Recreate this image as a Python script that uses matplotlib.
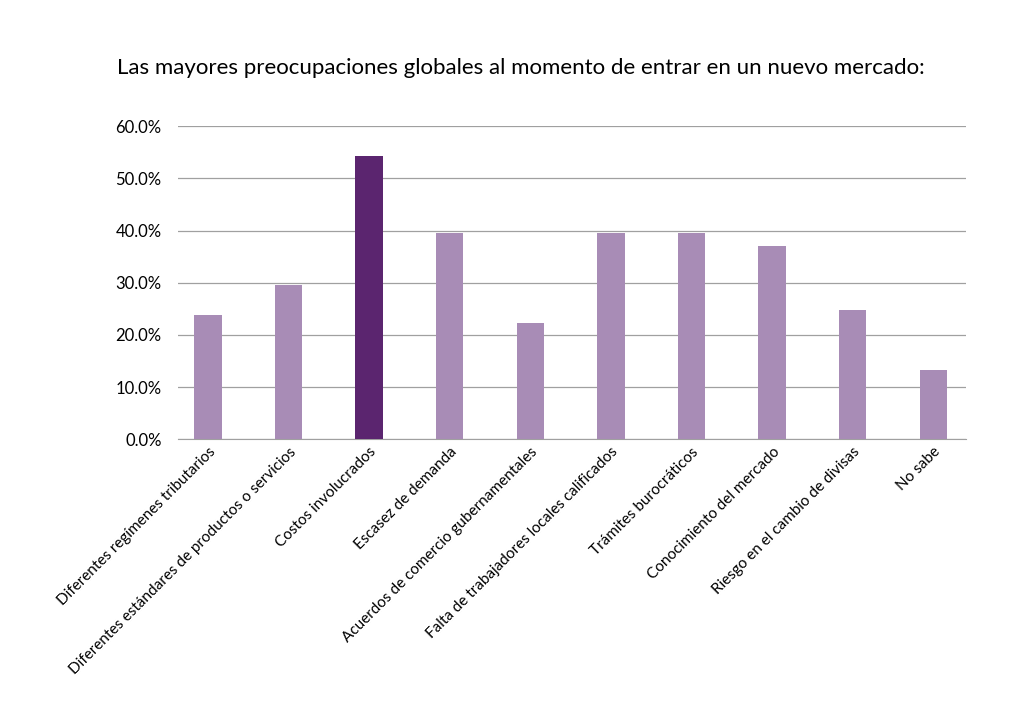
import matplotlib.pyplot as plt
import numpy as np

plt.rcParams['font.family'] = ['Lato', 'DejaVu Sans']

categories = [
    "Diferentes regímenes tributarios",
    "Diferentes estándares de productos o servicios",
    "Costos involucrados",
    "Escasez de demanda",
    "Acuerdos de comercio gubernamentales",
    "Falta de trabajadores locales calificados",
    "Trámites burocráticos",
    "Conocimiento del mercado",
    "Riesgo en el cambio de divisas",
    "No sabe",
]
values = [23.8, 29.6, 54.3, 39.5, 22.2, 39.5, 39.5, 37.0, 24.7, 13.2]
highlight = "Costos involucrados"

light = '#A88CB6'
dark = '#5B256F'
colors = [dark if c == highlight else light for c in categories]

fig = plt.figure(figsize=(10.24, 7.26), dpi=100)
ax = fig.add_axes([0.174, 0.395, 0.769, 0.431])

x = np.arange(len(categories))
ax.bar(x, values, width=0.34, color=colors, zorder=3)

ax.set_ylim(0, 60)
ax.set_xlim(-0.37, 9.4)
ax.set_yticks(np.arange(0, 61, 10))
ax.set_yticklabels([f"{v:.1f}%" for v in np.arange(0, 61, 10)], fontsize=12)
ax.yaxis.grid(True, color='#A0A0A0', linewidth=0.9, zorder=0)
ax.tick_params(axis='y', length=0, pad=12)
ax.tick_params(axis='x', length=0, pad=4)
ax.set_xticks(x)
ax.set_xticklabels(categories, rotation=45, ha='right', rotation_mode='anchor', fontsize=11)
for s in ['top', 'right', 'left']:
    ax.spines[s].set_visible(False)
ax.spines['bottom'].set_color('#A0A0A0')

fig.text(0.114, 0.907, "Las mayores preocupaciones globales al momento de entrar en un nuevo mercado:",
         fontsize=16, ha='left', va='center')

fig.savefig('out.png', dpi=100)
